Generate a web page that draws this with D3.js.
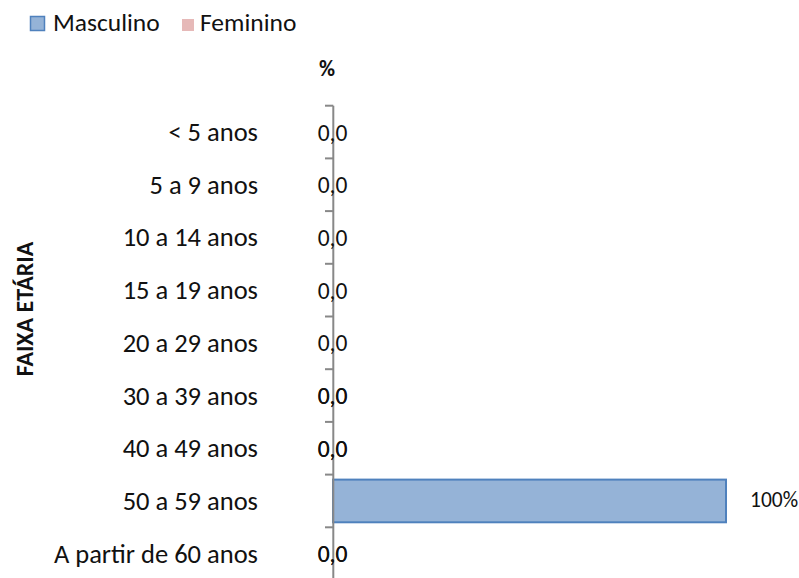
<!DOCTYPE html>
<html>
<head>
<meta charset="utf-8">
<script src="https://cdn.jsdelivr.net/npm/d3@7"></script>
<style>
  body { margin: 0; background: #fff; }
  svg text { font-family: Carlito, Lato, "Open Sans", sans-serif; fill: #111; }
</style>
</head>
<body>
<svg width="799" height="578"></svg>
<script>
var categories = ["< 5 anos", "5 a 9 anos", "10 a 14 anos", "15 a 19 anos", "20 a 29 anos",
  "30 a 39 anos", "40 a 49 anos", "50 a 59 anos", "A partir de 60 anos"];
var masculino = [0, 0, 0, 0, 0, 0, 0, 100, 0];
var feminino = [null, null, null, null, null, 0, 0, null, 0];
var seriesNames = ["Masculino", "Feminino"];
var seriesColors = [{ fill: "#95b3d7", stroke: "#4f81bd" }, { fill: "#e6b9b8", stroke: "none" }];

var svg = d3.select("svg");
var x = d3.scaleLinear().domain([0, 100]).range([333, 726]);
var y = d3.scaleBand().domain(categories).range([105.7, 580]).paddingInner(0.19).paddingOuter(0.095);
var step = y.step();

function fmt(v) { return v === 0 ? "0,0" : v + "%"; }
function bandTop(c) { return y(c) - y.paddingOuter() * step; }

/* ----------- LEGEND ----------- */
var legend = svg.append("g");
legend.append("rect").attr("x", 30.5).attr("y", 16.5).attr("width", 14).attr("height", 14)
  .attr("fill", seriesColors[0].fill).attr("stroke", seriesColors[0].stroke).attr("stroke-width", 1.5);
legend.append("text").attr("x", 53).attr("y", 31).attr("font-size", 25.5).text(seriesNames[0]);
legend.append("rect").attr("x", 182).attr("y", 19).attr("width", 12).attr("height", 12)
  .attr("fill", seriesColors[1].fill);
legend.append("text").attr("x", 200).attr("y", 31).attr("font-size", 25.5).text(seriesNames[1]);

/* ----------- TITLES ----------- */
svg.append("text").attr("x", 327).attr("y", 76).attr("text-anchor", "middle")
  .attr("font-size", 22).attr("font-weight", "bold").text("%");
svg.append("text").attr("transform", "translate(33,309) rotate(-90)").attr("text-anchor", "middle")
  .attr("font-size", 24).attr("font-weight", "bold").text("FAIXA ETÁRIA");

/* ----------- CATEGORY LABELS ----------- */
svg.append("g").selectAll("text").data(categories).enter().append("text")
  .attr("x", 258)
  .attr("y", function (d) { return bandTop(d) + step / 2 + 9; })
  .attr("text-anchor", "end").attr("font-size", 26.5)
  .text(function (d) { return d; });

/* ----------- BARS ----------- */
svg.append("g").selectAll("rect").data(masculino.map(function (v, i) { return { v: v, c: categories[i] }; }))
  .enter()
  .filter(function (d) { return d.v > 0; })
  .append("rect")
  .attr("x", x(0))
  .attr("y", function (d) { return y(d.c); })
  .attr("width", function (d) { return x(d.v) - x(0); })
  .attr("height", y.bandwidth())
  .attr("fill", seriesColors[0].fill)
  .attr("stroke", seriesColors[0].stroke).attr("stroke-width", 2);

/* ----------- AXIS ----------- */
var axis = svg.append("g").attr("stroke", "#888").attr("stroke-width", 2);
axis.append("line").attr("x1", 333.3).attr("x2", 333.3).attr("y1", 105.7).attr("y2", 580);
axis.selectAll("line.tick").data(categories.map(bandTop)).enter().append("line").attr("class", "tick")
  .attr("x1", 325).attr("x2", 333.3)
  .attr("y1", function (d) { return d; }).attr("y2", function (d) { return d; });

/* ----------- VALUE LABELS ----------- */
function labels(values) {
  svg.append("g").selectAll("text").data(values.map(function (v, i) { return { v: v, c: categories[i] }; })
    .filter(function (d) { return d.v !== null; }))
    .enter().append("text")
    .attr("x", function (d) { return d.v === 0 ? x(0) - 0.5 : x(d.v) + 24; })
    .attr("y", function (d) { return bandTop(d.c) + step / 2 + (d.v === 0 ? 8.5 : 6.5); })
    .attr("text-anchor", function (d) { return d.v === 0 ? "middle" : "start"; })
    .attr("font-size", function (d) { return d.v === 0 ? 23.5 : 21.5; })
    .text(function (d) { return fmt(d.v); });
}
labels(masculino);
labels(feminino);
</script>
</body>
</html>
